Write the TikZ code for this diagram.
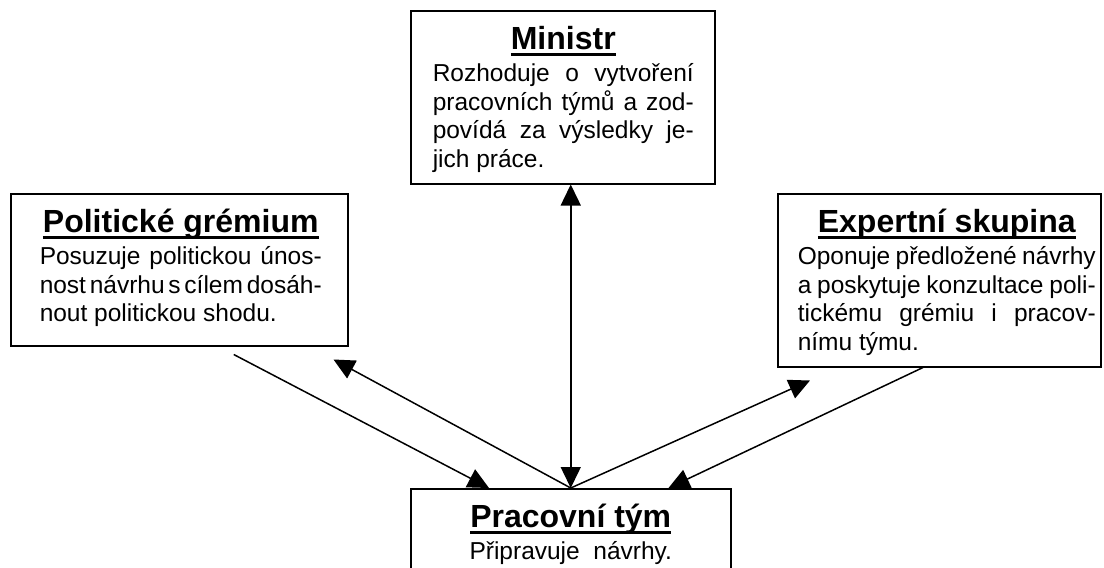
\documentclass[tikz,border=0pt]{standalone}
\usepackage{fontspec}
\setmainfont{Liberation Sans}
\usetikzlibrary{arrows.meta}

\newcommand{\headfont}{\fontsize{32}{36}\selectfont\bfseries}
\newcommand{\bodyfont}{\fontsize{24.5}{28.7}\selectfont\spaceskip=.278em plus .5em minus .16em\relax}
\newcommand{\headline}[1]{\setbox0\hbox{#1}\rlap{\rule[-6.5pt]{\wd0}{3.3pt}}\box0}
% width, height, left margin, right margin, heading, text
\newcommand{\unitbox}[6]{%
  \parbox[t][#2][t]{#1}{\hspace*{#3}\parbox[t]{\dimexpr#1-#3-#4\relax}{%
    {\centering\rule{0pt}{39pt}\headfont\headline{#5}\par}%
    \vspace{3pt}\bodyfont #6\par}}}

\begin{document}
\begin{tikzpicture}[x=1pt,y=-1pt,>={Triangle[length=21pt,width=20pt]},
    unit/.style={draw=black,line width=1.5pt,fill=white,inner sep=0pt,anchor=north west},
    link/.style={draw=black,line width=1.5pt,->}]
    \useasboundingbox (0,0) rectangle (1104,568);
    \clip (0,0) rectangle (1104,568);

    \node[unit] (min) at (410,10) {\unitbox{304pt}{173pt}{22pt}{21pt}{Ministr}{Rozhoduje o vytvoření\linebreak pracovních týmů a zod-\linebreak povídá za výsledky je-\linebreak jich práce.}};
    \node[unit] (pol) at (10,193) {\unitbox{337pt}{152pt}{29pt}{26pt}{Politické grémium}{Posuzuje politickou únos-\linebreak nost návrhu s cílem dosáh-\linebreak nout politickou shodu.}};
    \node[unit] (exp) at (777,193) {\unitbox{323pt}{173pt}{20pt}{5pt}{Expertní skupina}{Oponuje předložené návrhy\linebreak a poskytuje konzultace poli-\linebreak tickému grémiu i pracov-\linebreak nímu týmu.}};
    \node[unit] (tym) at (410,488) {\unitbox{320pt}{100pt}{10pt}{10pt}{Pracovní tým}{\centering Připravuje\ \ návrhy.\par}};

    \coordinate (polout) at ([shift={(54.5,8)}]pol.south);
    \coordinate (polin) at ([shift={(-15,13)}]pol.south east);
    \coordinate (expin) at ([shift={(33,13)}]exp.south west);
    \coordinate (expout) at ([shift={(146,0)}]exp.south west);

    \draw [link,<->] (min.south -| tym.north) to (tym.north);
    \draw [link] (polout) to ([xshift=79pt]tym.north west);
    \draw [link] (tym.north) to (polin);
    \draw [link] (tym.north) to (expin);
    \draw [link] (expout) to ([xshift=-63pt]tym.north east);
\end{tikzpicture}
\end{document}
